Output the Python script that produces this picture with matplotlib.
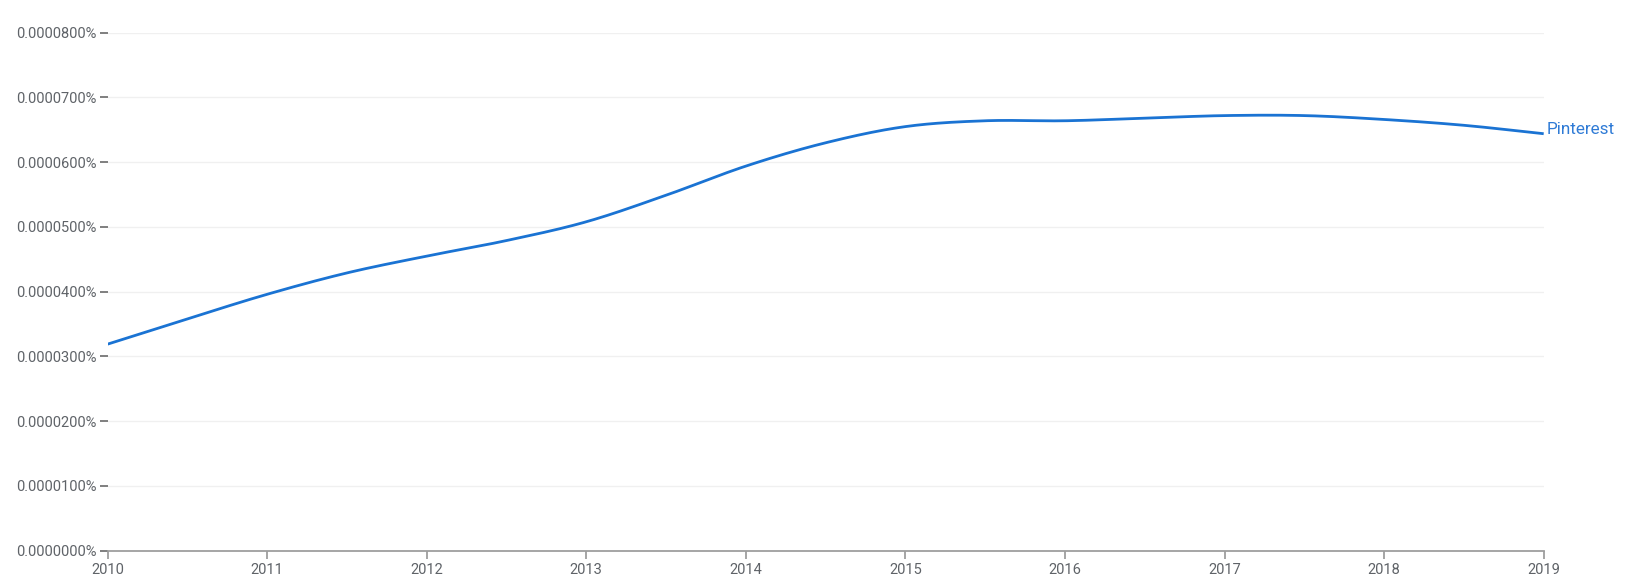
import numpy as np
import matplotlib
matplotlib.use("Agg")
import matplotlib.pyplot as plt
from matplotlib.ticker import FuncFormatter

years = [2010, 2010.5, 2011, 2011.5, 2012, 2012.5, 2013, 2013.5, 2014, 2014.5,
         2015, 2015.5, 2016, 2016.5, 2017, 2017.5, 2018, 2018.5, 2019]
# values in units of 1e-6 percent
values = [31.9, 35.8, 39.6, 42.9, 45.5, 47.9, 50.8, 54.9, 59.4, 63.0,
          65.5, 66.4, 66.4, 66.8, 67.2, 67.2, 66.6, 65.7, 64.4]
series_name = "Pinterest"
x_ticks = [2010, 2011, 2012, 2013, 2014, 2015, 2016, 2017, 2018, 2019]
y_ticks = [0, 10, 20, 30, 40, 50, 60, 70, 80]


def smooth_curve(x, y, n=30):
    x = np.asarray(x, float)
    y = np.asarray(y, float)
    h = np.diff(x)
    m = np.zeros_like(y)
    m[0] = (y[1] - y[0]) / h[0]
    m[-1] = (y[-1] - y[-2]) / h[-1]
    for i in range(1, len(y) - 1):
        m[i] = (y[i + 1] - y[i - 1]) / (x[i + 1] - x[i - 1])
    xs, ys = [], []
    for i in range(len(x) - 1):
        t = np.linspace(0, 1, n, endpoint=(i == len(x) - 2))
        h00 = 2 * t**3 - 3 * t**2 + 1
        h10 = t**3 - 2 * t**2 + t
        h01 = -2 * t**3 + 3 * t**2
        h11 = t**3 - t**2
        xs.append(x[i] + t * h[i])
        ys.append(h00 * y[i] + h10 * h[i] * m[i] + h01 * y[i + 1] + h11 * h[i] * m[i + 1])
    return np.concatenate(xs), np.concatenate(ys)


plt.rcParams['font.family'] = ['Roboto', 'DejaVu Sans']
fig = plt.figure(figsize=(16.37, 5.84), dpi=100)
ax = fig.add_axes([0.0657, 0.057, 0.8773, 0.887])

line_color = "#1a73d3"
cx, cy = smooth_curve(years, values)
ax.plot(cx, cy, color=line_color, lw=2.0, solid_capstyle="butt", zorder=3)

ax.set_xlim(x_ticks[0], x_ticks[-1])
ax.set_ylim(y_ticks[0], y_ticks[-1])
ax.set_xticks(x_ticks)
ax.set_yticks(y_ticks)
ax.yaxis.set_major_formatter(FuncFormatter(lambda v, p: f"{v / 1e6:.7f}%"))

for s in ["top", "right", "left"]:
    ax.spines[s].set_visible(False)
ax.spines["bottom"].set_color("#9e9e9e")
ax.spines["bottom"].set_linewidth(1.3)

ax.grid(axis="y", color="#f0f0f0", lw=1.0, zorder=0)
ax.tick_params(axis="y", length=6, width=1.3, color="#757575", pad=2,
               labelsize=10.5, labelcolor="#5f6368")
ax.tick_params(axis="x", length=6, width=1.3, color="#9e9e9e", pad=3,
               labelsize=10.5, labelcolor="#5f6368")

ax.annotate(series_name, xy=(x_ticks[-1], values[-1]), xytext=(2, 3),
            textcoords="offset points", ha="left", va="center",
            color="#2f7bd6", fontsize=12.3, annotation_clip=False)

fig.savefig("out.png", dpi=100, facecolor="white")
